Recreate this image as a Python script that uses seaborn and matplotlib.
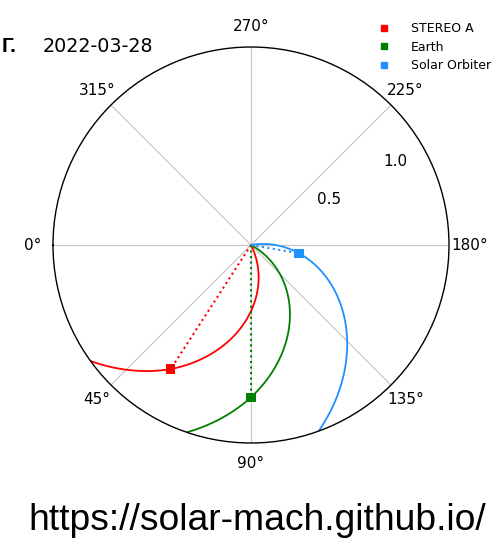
import numpy as np
import pandas as pd
import matplotlib
matplotlib.use("Agg")
import matplotlib.pyplot as plt
import seaborn as sns

# ---- data ----
bodies = ["STEREO A", "Earth", "Solar Orbiter"]
body_colors = ["red", "green", "dodgerblue"]
body_lon_deg = [57.1, 90.0, 170.2]     # longitude of each body
body_dist_au = [0.97, 1.00, 0.32]      # heliocentric distance (AU)

# magnetic-field (Parker spiral) anchor points: at the Sun, at the body, at the plot edge
sta_spiral_r = [0.0, 0.97, 1.30]
sta_spiral_lon = [116.7, 57.1, 35.9]
earth_spiral_r = [0.0, 1.00, 1.30]
earth_spiral_lon = [151.4, 90.0, 71.1]
solo_spiral_r = [0.0, 0.32, 1.30]
solo_spiral_lon = [189.8, 170.2, 110.0]

r_max = 1.3
r_ticks = [0.5, 1.0]
date_label = "2022-03-28"
panel_label = "Г."
url_label = "https://solar-mach.github.io/"

sns.set_style("white")
plt.rcParams["font.family"] = ["DejaVu Sans"]
plt.rcParams["text.color"] = "black"
plt.rcParams["xtick.color"] = "black"
plt.rcParams["ytick.color"] = "black"

fig = plt.figure(figsize=(4.95, 5.40), dpi=100)
ax = fig.add_axes([53 / 495, 1 - 443 / 540, 396 / 495, 396 / 540], projection="polar")
ax.set_theta_zero_location("W")
ax.set_theta_direction(1)

spirals = [(sta_spiral_r, sta_spiral_lon), (earth_spiral_r, earth_spiral_lon),
           (solo_spiral_r, solo_spiral_lon)]

for name, col, lon, dist, (sr, slon) in zip(bodies, body_colors, body_lon_deg,
                                            body_dist_au, spirals):
    # Parker spiral through the body (Archimedean: linear in polar data space)
    df_sp = pd.DataFrame({"theta": np.deg2rad(slon), "r": sr})
    n_before = len(ax.lines)
    sns.lineplot(data=df_sp, x="theta", y="r", ax=ax, color=col, lw=1.3,
                 sort=False, estimator=None, legend=False)
    line = ax.lines[n_before]
    line.recache()
    line._path._interpolation_steps = 200
    line._transformed_path = None
    # Sun-body line
    df_sb = pd.DataFrame({"theta": np.deg2rad([lon, lon]), "r": [0.0, dist]})
    sns.lineplot(data=df_sb, x="theta", y="r", ax=ax, color=col, lw=1.5,
                 linestyle=":", sort=False, estimator=None, legend=False)

df_b = pd.DataFrame({"theta": np.deg2rad(body_lon_deg), "r": body_dist_au,
                     "body": bodies})
sns.scatterplot(data=df_b, x="theta", y="r", hue="body", hue_order=bodies,
                palette=body_colors, marker="s", s=45, edgecolor="none",
                ax=ax, zorder=5, legend=False)

ax.set_rmax(r_max)
ax.set_rmin(0)
ax.set_rticks(r_ticks)
ax.set_rlabel_position(210)
ax.set_thetagrids(np.arange(0, 360, 45))
ax.yaxis.grid(False)
ax.xaxis.grid(True, color="#c8c8c8", lw=0.9)
ax.tick_params(axis="x", labelsize=11, pad=4, labelcolor="black")
ax.tick_params(axis="y", labelsize=11, labelcolor="black")
ax.set_xlabel("")
ax.set_ylabel("")
ax.spines["polar"].set_color("black")
ax.spines["polar"].set_linewidth(1.0)

handles = [plt.Line2D([], [], marker="s", color=c, ls="none", markersize=5)
           for c in body_colors]
fig.legend(handles, bodies, loc="upper left", bbox_to_anchor=(366 / 495, 1 - 17 / 540),
           frameon=False, fontsize=9, handletextpad=1.2, labelspacing=0.45,
           borderaxespad=0, labelcolor="black")

fig.text(2 / 495, 1 - 47 / 540, panel_label, fontsize=15, fontweight="bold",
         family=["Liberation Sans"], va="center", ha="left", color="black")
fig.text(43 / 495, 1 - 47 / 540, date_label, fontsize=13.8, va="center", ha="left",
         color="black")
fig.text(257 / 495, 1 - 521 / 540, url_label, fontsize=26.8,
         family=["Liberation Sans"], va="center", ha="center", color="black")

fig.savefig("out.png", dpi=100)
